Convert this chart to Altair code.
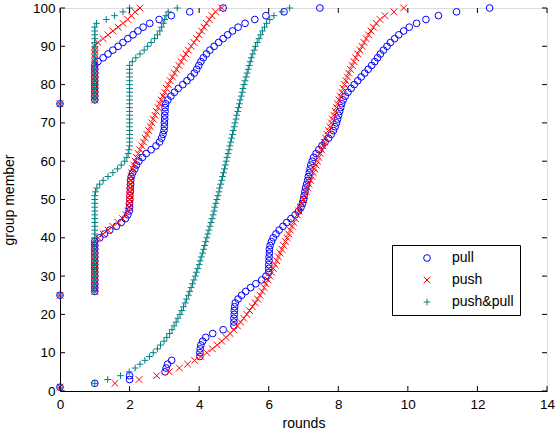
import altair as alt
import pandas as pd

# ---- data (rounds needed by each group member) ----
types = ["pull", "push", "push&pull"]
colors = ["#0000ff", "#ff0000", "#008080"]
shapes = ["circle", "M-1,-1L1,1M-1,1L1,-1", "M-1,0L1,0M0,-1L0,1"]

x_ticks = [0, 2, 4, 6, 8, 10, 12, 14]
y_ticks = [0, 10, 20, 30, 40, 50, 60, 70, 80, 90, 100]

# scenario A: source member 75, members 75..100
a_start = 75
a_pull = [0, 1.0, 1.0, 1.0, 1.0, 1.0, 1.0, 1.0, 1.0, 1.0, 1.0,
          1.09, 1.24, 1.38, 1.52, 1.67, 1.81, 1.95, 2.10, 2.24, 2.39, 2.58, 2.85, 3.2, 3.73, 4.69]
a_push = [0, 1.0, 1.0, 1.0, 1.0, 1.0, 1.0, 1.0, 1.0, 1.0, 1.0, 1.0, 1.0, 1.0, 1.0, 1.0,
          1.09, 1.24, 1.38, 1.52, 1.67, 1.81, 1.95, 2.05, 2.16, 2.3]
a_pp = [0, 1.0, 1.0, 1.0, 1.0, 1.0, 1.0, 1.0, 1.0, 1.0, 1.0, 1.0, 1.0, 1.0, 1.0, 1.0,
        1.0, 1.0, 1.0, 1.0, 1.0, 1.05, 1.33, 1.57, 1.81, 2.0]

# scenario B: source member 25, members 25..100
b_start = 25
b_pull = [0,
          1.0, 1.0, 1.0, 1.0, 1.0, 1.0, 1.0, 1.0, 1.0, 1.0, 1.0, 1.0, 1.0, 1.0,
          1.14, 1.28, 1.43, 1.62, 1.76, 1.88, 1.95, 1.99,
          2.0, 2.0, 2.01, 2.01, 2.02, 2.02, 2.03, 2.03, 2.05,
          2.09, 2.15, 2.2, 2.27, 2.37, 2.48, 2.62, 2.76, 2.86, 2.92, 2.96, 2.99,
          3.0, 3.0, 3.01, 3.01, 3.02, 3.02, 3.04,
          3.1, 3.19, 3.29, 3.4, 3.53, 3.65, 3.76, 3.86, 3.93, 3.99, 4.05, 4.12, 4.21,
          4.31, 4.43, 4.56, 4.69, 4.82, 4.96, 5.12, 5.32, 5.6, 5.92, 6.44, 7.47]
b_push = [0,
          1.0, 1.0, 1.0, 1.0, 1.0, 1.0, 1.0, 1.0, 1.0, 1.0, 1.0, 1.0, 1.0, 1.0,
          1.1, 1.24, 1.38, 1.52, 1.67, 1.8, 1.9, 1.95, 1.98, 2.0,
          2.0, 2.0, 2.0, 2.01, 2.02, 2.03,
          2.04, 2.06, 2.09, 2.12, 2.16, 2.2, 2.25, 2.3, 2.35, 2.4, 2.45, 2.5, 2.55,
          2.6, 2.64, 2.68, 2.73, 2.77, 2.82, 2.86, 2.91, 2.96, 3.01, 3.06, 3.11,
          3.17, 3.23, 3.29, 3.35, 3.42, 3.48, 3.55, 3.62, 3.69, 3.77, 3.85, 3.93,
          4.0, 4.07, 4.14, 4.21, 4.29, 4.37, 4.47, 4.65]
b_pp = [0,
        1.0, 1.0, 1.0, 1.0, 1.0, 1.0, 1.0, 1.0, 1.0, 1.0, 1.0, 1.0, 1.0,
        1.0, 1.0, 1.0, 1.0, 1.0, 1.0, 1.0, 1.0, 1.0, 1.0, 1.0, 1.0, 1.0,
        1.02, 1.06, 1.14, 1.24, 1.38, 1.52, 1.65, 1.76, 1.86, 1.92, 1.96, 1.98,
        2.0, 2.0, 2.0, 2.0, 2.0, 2.0, 2.0, 2.0, 2.0, 2.0, 2.0,
        2.0, 2.0, 2.0, 2.0, 2.0, 2.0, 2.0, 2.0, 2.0, 2.0, 2.0,
        2.08, 2.18, 2.3, 2.42, 2.52, 2.62, 2.72, 2.8, 2.87, 2.92, 2.97, 3.01,
        3.05, 3.11, 3.37]

# scenario C: source member 1, members 1..100
c_start = 1
c_pull = [0, 1.0, 2.0, 2.0, 3.02, 3.05, 3.09, 3.21,
          4.02, 4.02, 4.03, 4.05, 4.1, 4.19, 4.39, 4.69,
          5.0, 5.0, 5.0, 5.01, 5.01, 5.02, 5.04,
          5.12, 5.22, 5.34, 5.48, 5.63, 5.8, 5.92,
          6.0, 6.0, 6.0, 6.01, 6.01, 6.02, 6.02, 6.04,
          6.08, 6.13, 6.21, 6.3, 6.41, 6.52, 6.64, 6.76, 6.86, 6.93, 6.97,
          7.0, 7.02, 7.04, 7.06, 7.09, 7.12, 7.14, 7.17,
          7.19, 7.21, 7.25, 7.29, 7.36, 7.44, 7.53, 7.62, 7.72, 7.8, 7.86, 7.91,
          7.95, 7.98, 8.01, 8.04, 8.07, 8.1, 8.14, 8.2, 8.28, 8.37, 8.46, 8.56,
          8.66, 8.76, 8.86, 8.96, 9.05, 9.13, 9.21, 9.3, 9.4, 9.5, 9.62, 9.74,
          9.88, 10.04, 10.25, 10.52, 10.88, 11.4, 12.35]
c_push = [0, 1.58, 2.27, 2.78, 3.14, 3.43, 3.67, 3.87, 4.05, 4.22,
          4.38, 4.52, 4.65, 4.77, 4.89, 5.0, 5.1, 5.19, 5.28, 5.37,
          5.45, 5.53, 5.61, 5.68, 5.75, 5.81, 5.87, 5.92, 5.98, 6.03,
          6.08, 6.13, 6.18, 6.23, 6.28, 6.33, 6.38, 6.43, 6.48, 6.53,
          6.57, 6.62, 6.67, 6.72, 6.77, 6.82, 6.87, 6.91, 6.96, 7.0,
          7.04, 7.08, 7.12, 7.16, 7.2, 7.24, 7.28, 7.32, 7.36, 7.4,
          7.44, 7.48, 7.52, 7.56, 7.6, 7.64, 7.68, 7.72, 7.76, 7.8,
          7.83, 7.87, 7.91, 7.95, 7.98, 8.02, 8.06, 8.1, 8.14, 8.18,
          8.22, 8.26, 8.3, 8.35, 8.4, 8.45, 8.5, 8.56, 8.62, 8.68,
          8.74, 8.8, 8.87, 8.94, 9.01, 9.09, 9.2, 9.34, 9.6, 9.88]
c_pp = [0, 1.0, 1.37, 1.74, 1.99, 2.16, 2.3, 2.44, 2.57, 2.68,
        2.8, 2.89, 2.99, 3.07, 3.15, 3.22, 3.28, 3.34, 3.39, 3.45,
        3.5, 3.55, 3.6, 3.64, 3.69, 3.73, 3.77, 3.81, 3.85, 3.89,
        3.92, 3.96, 4.0, 4.03, 4.06, 4.1, 4.13, 4.16, 4.19, 4.22,
        4.25, 4.28, 4.31, 4.34, 4.37, 4.4, 4.43, 4.45, 4.48, 4.51,
        4.54, 4.57, 4.59, 4.62, 4.65, 4.67, 4.7, 4.73, 4.75, 4.78,
        4.8, 4.83, 4.86, 4.88, 4.91, 4.93, 4.96, 4.98, 5.01, 5.03,
        5.06, 5.08, 5.11, 5.13, 5.16, 5.18, 5.21, 5.24, 5.26, 5.29,
        5.32, 5.35, 5.38, 5.41, 5.44, 5.47, 5.5, 5.54, 5.58, 5.62,
        5.67, 5.72, 5.77, 5.82, 5.88, 5.94, 6.03, 6.15, 6.38, 6.6]

series = [
    ("pull", c_start, c_pull), ("pull", b_start, b_pull), ("pull", a_start, a_pull),
    ("push", c_start, c_push), ("push", b_start, b_push), ("push", a_start, a_push),
    ("push&pull", c_start, c_pp), ("push&pull", b_start, b_pp), ("push&pull", a_start, a_pp),
]
rows = []
for t, start, vals in series:
    for i, v in enumerate(vals):
        rows.append({"rounds": v, "member": start + i, "type": t})
df = pd.DataFrame(rows)

FONT = "Liberation Sans"
W, H = 487, 383

xscale = alt.Scale(domain=[0, 14], nice=False, zero=False)
yscale = alt.Scale(domain=[0, 100], nice=False, zero=False)

leg = alt.Legend(
    title=None, orient="none", legendX=332, legendY=237,
    strokeColor="black", fillColor="white", padding=6,
    symbolOffset=22, labelOffset=18, rowPadding=8,
    labelFontSize=14, labelFont=FONT, labelColor="black",
    symbolSize=45, symbolStrokeWidth=1,
)

common = dict(ticks=False, grid=False, labelOverlap=False, labelFlush=False,
              titleFontWeight="normal", format="d", labelFont=FONT, titleFont=FONT,
              labelFontSize=13.5, titleFontSize=14, labelColor="black",
              titleColor="black", domainColor="black", domainWidth=1)
xaxis = alt.Axis(values=x_ticks, title="rounds", labelPadding=6, titlePadding=6, **common)
yaxis = alt.Axis(values=y_ticks, title="group member", labelPadding=5, titlePadding=16,
                 **common)

points = alt.Chart(df).mark_point(filled=False, size=45, strokeWidth=1, opacity=1).encode(
    x=alt.X("rounds:Q", scale=xscale, axis=xaxis),
    y=alt.Y("member:Q", scale=yscale, axis=yaxis),
    color=alt.Color("type:N", scale=alt.Scale(domain=types, range=colors), legend=leg),
    shape=alt.Shape("type:N", scale=alt.Scale(domain=types, range=shapes), legend=leg),
)

xt = pd.DataFrame({"rounds": x_ticks})
yt = pd.DataFrame({"member": y_ticks})

tick_b = alt.Chart(xt).mark_rule(color="black", strokeWidth=1).encode(
    x=alt.X("rounds:Q", scale=xscale, axis=xaxis), y=alt.value(H), y2=alt.value(H - 5))
tick_t = alt.Chart(xt).mark_rule(color="black", strokeWidth=1).encode(
    x=alt.X("rounds:Q", scale=xscale, axis=xaxis), y=alt.value(0), y2=alt.value(5))
tick_l = alt.Chart(yt).mark_rule(color="black", strokeWidth=1).encode(
    y=alt.Y("member:Q", scale=yscale, axis=yaxis), x=alt.value(0), x2=alt.value(5))
tick_r = alt.Chart(yt).mark_rule(color="black", strokeWidth=1).encode(
    y=alt.Y("member:Q", scale=yscale, axis=yaxis), x=alt.value(W), x2=alt.value(W - 5))

chart = alt.layer(points, tick_b, tick_t, tick_l, tick_r).properties(
    width=W, height=H,
    autosize=alt.AutoSizeParams(type="none"),
    padding={"left": 60, "top": 8, "right": 11, "bottom": 46},
).configure_view(stroke="black", strokeWidth=1).configure(background="white")

chart.save("out.html", embed_options={"renderer": "svg", "actions": False})
